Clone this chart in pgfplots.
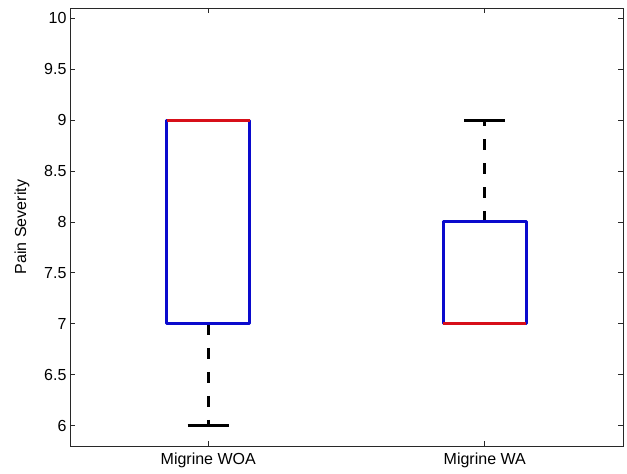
\documentclass[border=0pt]{standalone}
\usepackage{pgfplots}
\pgfplotsset{compat=1.18}
\usepackage{fontspec}
\setmainfont{Liberation Sans}
\definecolor{boxblue}{RGB}{10,10,205}
\definecolor{medred}{RGB}{215,15,25}
\definecolor{axgray}{RGB}{40,40,40}
\begin{document}
\begin{tikzpicture}
\begin{axis}[
  width=553pt, height=438pt, scale only axis,
  xmin=0.5, xmax=2.5, ymin=5.8, ymax=10.1,
  xtick={1,2}, xticklabels={Migrine WOA, Migrine WA},
  ytick={6,6.5,...,10},
  tick align=inside, tick pos=both,
  major tick length=5pt,
  axis line style={axgray, line width=0.7pt},
  every tick/.style={axgray, line width=0.7pt},
  /pgf/number format/assume math mode=true,
  tick label style={font=\fontsize{16}{19}\selectfont, color=black},
  xticklabel style={yshift=-3pt},
  label style={font=\fontsize{16}{19}\selectfont},
  ylabel={Pain Severity},
  ylabel style={yshift=8pt},
  clip=false,
]
% whiskers (dashed)
\addplot[black, line width=3pt, dash pattern=on 11pt off 13pt] coordinates {(1,7) (1,6)};
\addplot[black, line width=3pt, dash pattern=on 11pt off 13pt] coordinates {(2,8) (2,9)};
% caps
\addplot[black, line width=3pt] coordinates {(0.925,6) (1.075,6)};
\addplot[black, line width=3pt] coordinates {(1.925,9) (2.075,9)};
% boxes
\addplot[boxblue, line width=3pt, line join=round] coordinates {(0.85,7) (1.15,7) (1.15,9) (0.85,9) (0.85,7)} -- cycle;
\addplot[boxblue, line width=3pt, line join=round] coordinates {(1.85,7) (2.15,7) (2.15,8) (1.85,8) (1.85,7)} -- cycle;
% medians
\addplot[medred, line width=3pt] coordinates {(0.85,9) (1.15,9)};
\addplot[medred, line width=3pt] coordinates {(1.85,7) (2.15,7)};
\end{axis}
\path (current axis.south west) ++(-70pt,-28pt) coordinate (bl);
\path (current axis.north east) ++(4pt,8pt) coordinate (tr);
\path (bl) (tr);
\end{tikzpicture}
\end{document}
